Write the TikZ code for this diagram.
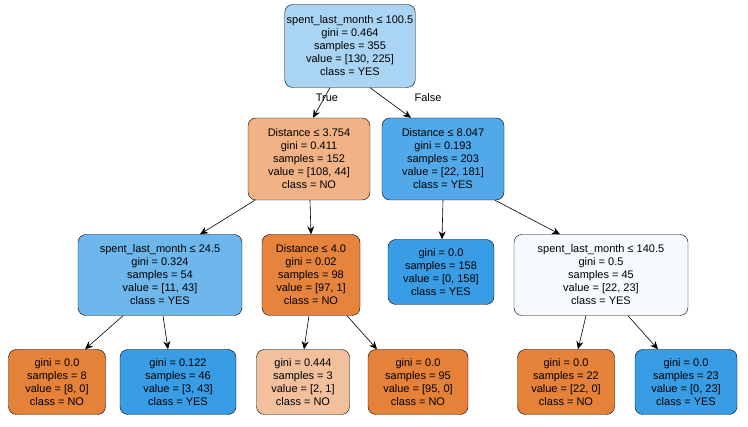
\documentclass[tikz,border=0pt]{standalone}
\usepackage{fontspec}
\setmainfont{Liberation Sans}
\usetikzlibrary{arrows.meta}
\definecolor{cRoot}{HTML}{A9D4F4}
\definecolor{cA}{HTML}{F1B386}
\definecolor{cB}{HTML}{52A9E9}
\definecolor{cC}{HTML}{6DB7EC}
\definecolor{cD}{HTML}{E6843D}
\definecolor{cBlue}{HTML}{399DE5}
\definecolor{cOr}{HTML}{E58139}
\definecolor{cLt}{HTML}{F2C09C}
\definecolor{cW}{HTML}{F5FAFE}
\begin{document}
\begin{tikzpicture}[x=1pt,y=-1pt,
  box/.style={draw=black,rounded corners=8pt,align=center,font=\fontsize{11}{13}\selectfont,inner xsep=2pt,inner ysep=3pt},
  arr/.style={-{Stealth[length=8pt,width=7pt]},black,line width=0.6pt},
  lab/.style={font=\fontsize{11}{13}\selectfont}]
\useasboundingbox (0,0) rectangle (748,427);
\node[box,fill=cRoot,minimum width=120pt,minimum height=83pt] (r) at (350,46) {spent\_last\_month ≤ 100.5\\gini = 0.464\\samples = 355\\value = [130, 225]\\class = YES};
\node[box,fill=cA,minimum width=122pt,minimum height=82pt] (a) at (309,159) {Distance ≤ 3.754\\gini = 0.411\\samples = 152\\value = [108, 44]\\class = NO};
\node[box,fill=cB,minimum width=122pt,minimum height=82pt] (b) at (443,159) {Distance ≤ 8.047\\gini = 0.193\\samples = 203\\value = [22, 181]\\class = YES};
\node[box,fill=cC,minimum width=164pt,minimum height=81pt] (c) at (160,275) {spent\_last\_month ≤ 24.5\\gini = 0.324\\samples = 54\\value = [11, 43]\\class = YES};
\node[box,fill=cD,minimum width=98pt,minimum height=81pt] (d) at (311,275) {Distance ≤ 4.0\\gini = 0.02\\samples = 98\\value = [97, 1]\\class = NO};
\node[box,fill=cBlue,minimum width=106pt,minimum height=65pt] (e) at (441,272) {gini = 0.0\\samples = 158\\value = [0, 158]\\class = YES};
\node[box,fill=cW,minimum width=174pt,minimum height=81pt] (f) at (601,275) {spent\_last\_month ≤ 140.5\\gini = 0.5\\samples = 45\\value = [22, 23]\\class = YES};
\node[box,fill=cOr,minimum width=97pt,minimum height=65pt] (l1) at (57,382) {gini = 0.0\\samples = 8\\value = [8, 0]\\class = NO};
\node[box,fill=cBlue,minimum width=116pt,minimum height=65pt] (l2) at (178,382) {gini = 0.122\\samples = 46\\value = [3, 43]\\class = YES};
\node[box,fill=cLt,minimum width=93pt,minimum height=65pt] (l3) at (303,382) {gini = 0.444\\samples = 3\\value = [2, 1]\\class = NO};
\node[box,fill=cOr,minimum width=100pt,minimum height=65pt] (l4) at (418,382) {gini = 0.0\\samples = 95\\value = [95, 0]\\class = NO};
\node[box,fill=cOr,minimum width=97pt,minimum height=65pt] (l5) at (566,382) {gini = 0.0\\samples = 22\\value = [22, 0]\\class = NO};
\node[box,fill=cBlue,minimum width=102pt,minimum height=65pt] (l6) at (686,382) {gini = 0.0\\samples = 23\\value = [0, 23]\\class = YES};
\draw[arr] (r.south -| 330,0) -- (a.north -| 313,0);
\draw[arr] (r.south -| 370,0) -- (b.north -| 411,0);
\draw[arr] (a.south -| 255,0) -- (c.north -| 200,0);
\draw[arr] (a.south -| 310,0) -- (d.north -| 311,0);
\draw[arr] (b.south -| 443,0) -- (e.north -| 442,0);
\draw[arr] (b.south -| 495,0) -- (f.north -| 560,0);
\draw[arr] (c.south -| 123,0) -- (l1.north -| 85,0);
\draw[arr] (c.south -| 163,0) -- (l2.north -| 168,0);
\draw[arr] (d.south -| 309,0) -- (l3.north -| 304,0);
\draw[arr] (d.south -| 347,0) -- (l4.north -| 377,0);
\draw[arr] (f.south -| 586,0) -- (l5.north -| 578,0);
\draw[arr] (f.south -| 628,0) -- (l6.north -| 658,0);
\node[lab] (t) at (327,98) {True};
\node[lab] (fl) at (428,98) {False};
\end{tikzpicture}
\end{document}
